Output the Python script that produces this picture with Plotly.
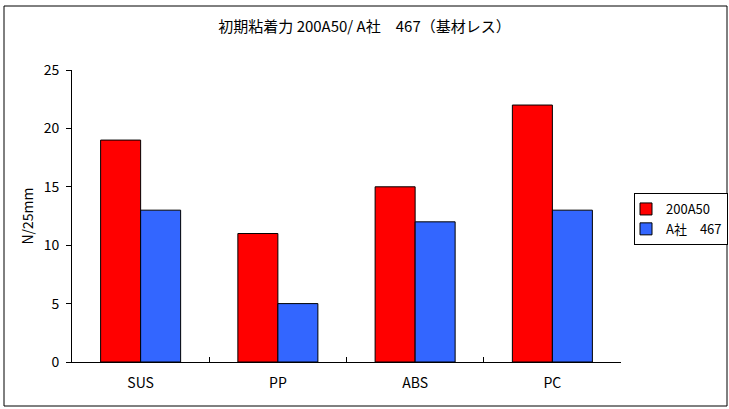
import plotly.graph_objects as go

categories = ["SUS", "PP", "ABS", "PC"]
series_names = ["200A50", "A社\u3000467"]
values_200a50 = [19, 11, 15, 22]
values_a467 = [13, 5, 12, 13]
y_ticks = [0, 5, 10, 15, 20, 25]

FONT = "Noto Sans CJK JP"
W, H = 729, 409
L, R, T, B = 72, 108, 70, 47
pw = W - L - R
ph = H - T - B

def px_x(x):
    return (x - L) / pw

def px_y(y):
    return (H - B - y) / ph

fig = go.Figure()
fig.add_trace(go.Bar(x=categories, y=values_200a50, name=series_names[0],
                     marker=dict(color="#FF0000", line=dict(color="#000000", width=1))))
fig.add_trace(go.Bar(x=categories, y=values_a467, name=series_names[1],
                     marker=dict(color="#3366FF", line=dict(color="#000000", width=1))))

fig.update_layout(
    width=W, height=H,
    margin=dict(l=L, r=R, t=T, b=B, autoexpand=False),
    paper_bgcolor="white", plot_bgcolor="white",
    font=dict(family=FONT, size=13, color="#000000"),
    title=dict(text="初期粘着力 200A50/ A社\u3000467（基材レス）", x=0.5, xanchor="center",
               y=1 - 27 / H, yanchor="middle", font=dict(family=FONT, size=15, color="#000000")),
    barmode="group", bargap=0.417, bargroupgap=0,
    showlegend=True,
    legend=dict(x=px_x(634), y=px_y(193), xanchor="left", yanchor="top",
                bordercolor="#000000", borderwidth=1, bgcolor="white",
                font=dict(family=FONT, size=13), itemwidth=30, tracegroupgap=0,
                indentation=-9),
    xaxis=dict(type="category", showline=True, linecolor="#000000", linewidth=1,
               ticks="inside", tickson="boundaries", ticklen=5, tickcolor="#000000",
               showgrid=False, tickfont=dict(family=FONT, size=14), ticklabelstandoff=8),
    yaxis=dict(range=[0, 25], tickvals=y_ticks, showline=True, linecolor="#000000", linewidth=1,
               ticks="outside", ticklen=5, tickcolor="#000000", showgrid=False, zeroline=False,
               tickfont=dict(family=FONT, size=14), ticklabelstandoff=4,
               title=dict(text="N/25mm", font=dict(family=FONT, size=14), standoff=6)),
)

fig.add_shape(type="rect", xref="paper", yref="paper",
              x0=px_x(4), x1=px_x(727), y0=px_y(406), y1=px_y(6),
              line=dict(color="#000000", width=1), fillcolor="rgba(0,0,0,0)", layer="below")

fig.write_html("out.html", config={"displayModeBar": False},
               post_script="document.body.style.margin='0';")
